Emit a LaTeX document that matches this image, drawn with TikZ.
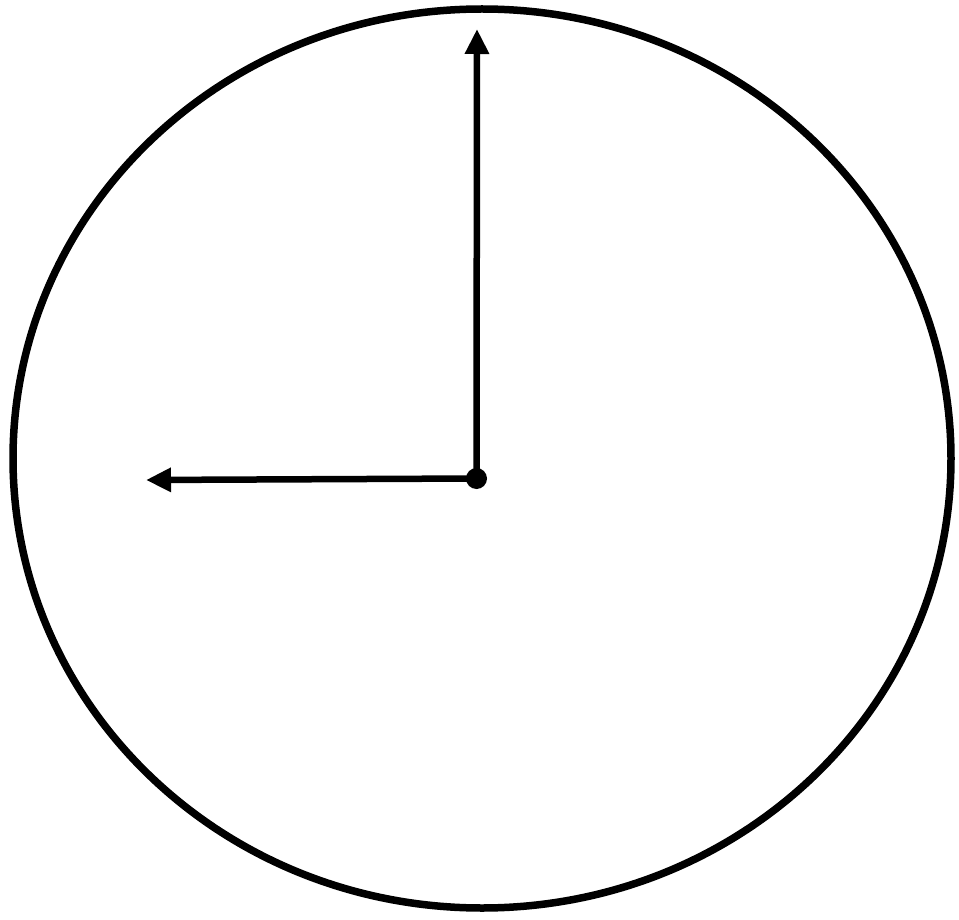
\documentclass[tikz,border=0pt]{standalone}
\usetikzlibrary{arrows.meta}
\begin{document}
\begin{tikzpicture}[x=1pt,y=-1pt,
  hand/.style={line width=6.5pt, -{Triangle[length=25pt,width=23pt]}},
  face/.style={line width=7.5pt}]
\useasboundingbox (0,0) rectangle (959,920);
\draw[face] (482,458.5) ellipse [x radius=469, y radius=449.5];
\node[circle, fill=black, inner sep=0pt, minimum size=21pt] (c) at (476.5,478.5) {};
\coordinate (h12) at (477,29);
\coordinate (h9) at (146,480);
\draw[hand] (c.center) -- (h12);
\draw[hand] (c.center) -- (h9);
\end{tikzpicture}
\end{document}
